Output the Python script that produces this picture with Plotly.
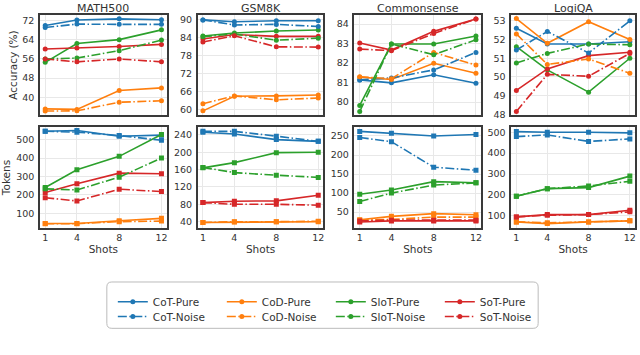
import plotly.graph_objects as go

SHOTS = [1, 4, 8, 12]
SHOT_LABELS = ["1", "4", "8", "12"]
DATASETS = ["MATH500", "GSM8K", "Commonsense", "LogiQA"]
METHODS = ["CoT", "CoD", "SloT", "SoT"]
COLORS = {"CoT": "#1f77b4", "CoD": "#ff7f0e", "SloT": "#2ca02c", "SoT": "#d62728"}

# Accuracy (%)
MATH500_ACC = {
    "CoT-Pure": [70.0, 72.3, 72.8, 72.4], "CoT-Noise": [69.2, 70.6, 70.5, 70.5],
    "CoD-Pure": [35.1, 34.9, 42.8, 43.9], "CoD-Noise": [34.2, 34.3, 37.9, 38.5],
    "SloT-Pure": [54.6, 62.5, 64.1, 68.2], "SloT-Noise": [56.0, 56.4, 59.5, 63.9],
    "SoT-Pure": [60.2, 60.6, 61.2, 62.1], "SoT-Noise": [56.0, 54.8, 56.0, 54.8],
}
GSM8K_ACC = {
    "CoT-Pure": [90.0, 89.4, 89.7, 89.7], "CoT-Noise": [90.0, 88.3, 88.5, 87.8],
    "CoD-Pure": [59.6, 64.5, 64.6, 64.9], "CoD-Noise": [62.0, 64.6, 63.3, 63.9],
    "SloT-Pure": [84.6, 85.6, 86.3, 86.6], "SloT-Noise": [84.4, 85.3, 83.2, 83.9],
    "SoT-Pure": [83.6, 85.1, 84.5, 84.5], "SoT-Noise": [82.6, 84.7, 81.0, 80.9],
}
COMMONSENSE_ACC = {
    "CoT-Pure": [81.14, 80.99, 81.40, 80.97], "CoT-Noise": [81.14, 81.24, 81.65, 82.55],
    "CoD-Pure": [81.28, 81.16, 81.99, 81.48], "CoD-Noise": [81.30, 81.20, 82.55, 81.90],
    "SloT-Pure": [79.83, 82.98, 82.98, 83.39], "SloT-Noise": [79.52, 82.98, 82.43, 83.20],
    "SoT-Pure": [83.03, 82.67, 83.63, 84.26], "SoT-Noise": [82.72, 82.64, 83.52, 84.26],
}
LOGIQA_ACC = {
    "CoT-Pure": [52.60, 51.76, 51.76, 51.88], "CoT-Noise": [51.44, 52.43, 51.28, 53.00],
    "CoD-Pure": [53.12, 51.80, 52.95, 52.00], "CoD-Noise": [52.30, 50.67, 50.96, 50.20],
    "SloT-Pure": [51.62, 50.38, 49.19, 51.00], "SloT-Noise": [50.75, 51.26, 51.76, 51.72],
    "SoT-Pure": [49.28, 50.43, 51.14, 51.32], "SoT-Noise": [48.16, 50.14, 50.04, 51.26],
}

# Tokens
MATH500_TOK = {
    "CoT-Pure": [545, 549, 518, 524], "CoT-Noise": [545, 540, 522, 496],
    "CoD-Pure": [45, 45, 60, 73], "CoD-Noise": [44, 44, 55, 58],
    "SloT-Pure": [240, 336, 409, 527], "SloT-Noise": [233, 227, 296, 400],
    "SoT-Pure": [213, 260, 318, 315], "SoT-Noise": [185, 167, 231, 218],
}
GSM8K_TOK = {
    "CoT-Pure": [246, 242, 229, 225], "CoT-Noise": [248, 248, 237, 225],
    "CoD-Pure": [38, 39, 40, 40], "CoD-Noise": [38, 40, 40, 41],
    "SloT-Pure": [164, 176, 199, 200], "SloT-Noise": [165, 153, 147, 142],
    "SoT-Pure": [84, 87, 88, 101], "SoT-Noise": [84, 80, 80, 78],
}
COMMONSENSE_TOK = {
    "CoT-Pure": [262, 257, 250, 254], "CoT-Noise": [246, 235, 168, 160],
    "CoD-Pure": [30, 39, 46, 43], "CoD-Noise": [29, 31, 37, 37],
    "SloT-Pure": [97, 108, 130, 127], "SloT-Noise": [78, 100, 121, 127],
    "SoT-Pure": [24, 27, 27, 27], "SoT-Noise": [27, 29, 29, 29],
}
LOGIQA_TOK = {
    "CoT-Pure": [503, 500, 500, 497], "CoT-Noise": [479, 487, 456, 468],
    "CoD-Pure": [71, 63, 71, 76], "CoD-Noise": [71, 67, 71, 76],
    "SloT-Pure": [194, 230, 235, 290], "SloT-Noise": [194, 230, 243, 265],
    "SoT-Pure": [95, 106, 106, 127], "SoT-Noise": [95, 103, 106, 119],
}

ACC = [MATH500_ACC, GSM8K_ACC, COMMONSENSE_ACC, LOGIQA_ACC]
TOK = [MATH500_TOK, GSM8K_TOK, COMMONSENSE_TOK, LOGIQA_TOK]

ACC_TICKS = [[40, 48, 56, 64, 72], [60, 66, 72, 78, 84, 90], [80, 81, 82, 83, 84], [48, 49, 50, 51, 52, 53]]
ACC_RANGE = [[32.4, 74.5], [58.1, 91.7], [79.32, 84.48], [47.95, 53.32]]
TOK_TICKS = [[100, 200, 300, 400, 500], [40, 80, 120, 160, 200, 240], [50, 100, 150, 200, 250], [100, 200, 300, 400, 500]]
TOK_RANGE = [[22, 567], [26, 257.6], [9, 273], [43, 524]]

W, H = 640, 355
COL_PX = [(40, 167), (198, 324), (355, 482), (512, 636)]
ROW_PX = [(14, 116), (128, 230)]
fx = lambda v: v / W
fy = lambda v: 1 - v / H

FONT = "DejaVu Sans, Verdana, sans-serif"
TXT = "#333333"
FRAME = "#3a3a3a"
GRID = "#e8e8e8"
DASHDOT = "9px,2.5px,1.5px,2.5px"

fig = go.Figure()
layout = {}
ann = []
idx = 0
for r, (data_list, ticks_list, range_list, sym) in enumerate(
        [(ACC, ACC_TICKS, ACC_RANGE, "circle"), (TOK, TOK_TICKS, TOK_RANGE, "square")]):
    for c in range(4):
        idx += 1
        xa = "x" if idx == 1 else f"x{idx}"
        ya = "y" if idx == 1 else f"y{idx}"
        data = data_list[c]
        order = [f"{m}-Pure" for m in METHODS] + [f"{m}-Noise" for m in METHODS]
        for name in order:
            m, kind = name.split("-")
            fig.add_trace(go.Scatter(
                x=SHOTS, y=data[name], mode="lines+markers", name=name,
                xaxis=xa, yaxis=ya,
                line=dict(color=COLORS[m], width=1.6, dash="solid" if kind == "Pure" else DASHDOT),
                marker=dict(symbol=sym, size=5, color=COLORS[m]),
                showlegend=(idx == 1), legendgroup=name,
                legend="legend" if kind == "Pure" else "legend2",
            ))
        x0, x1 = COL_PX[c]
        y0, y1 = ROW_PX[r]
        axbase = dict(showline=True, mirror=True, linecolor=FRAME, linewidth=1.5,
                      showgrid=True, gridcolor=GRID, gridwidth=1, zeroline=False,
                      ticks="", tickfont=dict(family=FONT, size=9.5, color=TXT))
        layout["xaxis" if idx == 1 else f"xaxis{idx}"] = dict(
            axbase, domain=[fx(x0), fx(x1)], anchor=ya, range=[0.5, 12.5],
            tickvals=SHOTS, ticktext=SHOT_LABELS, showticklabels=(r == 1),
            title=dict(text="Shots", font=dict(family=FONT, size=10.5, color=TXT), standoff=2) if r == 1 else None,
        )
        layout["yaxis" if idx == 1 else f"yaxis{idx}"] = dict(
            axbase, domain=[fy(y1), fy(y0)], anchor=xa, range=range_list[c],
            tickvals=ticks_list[c], ticklabelstandoff=2,
            title=dict(text=("Accuracy (%)" if r == 0 else "Tokens") if c == 0 else None,
                       font=dict(family=FONT, size=10.5, color=TXT), standoff=3) if c == 0 else None,
        )
        if r == 0:
            ann.append(dict(text=DATASETS[c], x=fx((x0 + x1) / 2), y=fy(8),
                            xref="paper", yref="paper", xanchor="center", yanchor="middle",
                            showarrow=False, font=dict(family=FONT, size=11, color=TXT)))

# rounded legend frame
lx0, lx1, ly0, ly1, rad = 107, 539, 285, 332, 5
path = (f"M {fx(lx0+rad)},{fy(ly0)} L {fx(lx1-rad)},{fy(ly0)} Q {fx(lx1)},{fy(ly0)} {fx(lx1)},{fy(ly0+rad)} "
        f"L {fx(lx1)},{fy(ly1-rad)} Q {fx(lx1)},{fy(ly1)} {fx(lx1-rad)},{fy(ly1)} "
        f"L {fx(lx0+rad)},{fy(ly1)} Q {fx(lx0)},{fy(ly1)} {fx(lx0)},{fy(ly1-rad)} "
        f"L {fx(lx0)},{fy(ly0+rad)} Q {fx(lx0)},{fy(ly0)} {fx(lx0+rad)},{fy(ly0)} Z")

leg_common = dict(orientation="h", xanchor="left", yanchor="middle",
                  entrywidth=64, entrywidthmode="pixels", itemwidth=30,
                  font=dict(family=FONT, size=10.5, color=TXT),
                  bgcolor="rgba(0,0,0,0)", borderwidth=0)

fig.update_layout(
    **layout,
    annotations=ann,
    shapes=[dict(type="path", path=path, xref="paper", yref="paper",
                 line=dict(color="#bbbbbb", width=1), fillcolor="rgba(0,0,0,0)", layer="below")],
    width=W, height=H,
    margin=dict(l=0, r=0, t=0, b=0),
    paper_bgcolor="white", plot_bgcolor="white",
    showlegend=True,
    legend=dict(leg_common, x=fx(113), y=fy(305)),
    legend2=dict(leg_common, x=fx(113), y=fy(320)),
)

# remove the browser's default 8px body margin so the figure fills the window
fig.write_html("out.html", config={"displayModeBar": False},
               post_script="document.body.style.margin='0';")
